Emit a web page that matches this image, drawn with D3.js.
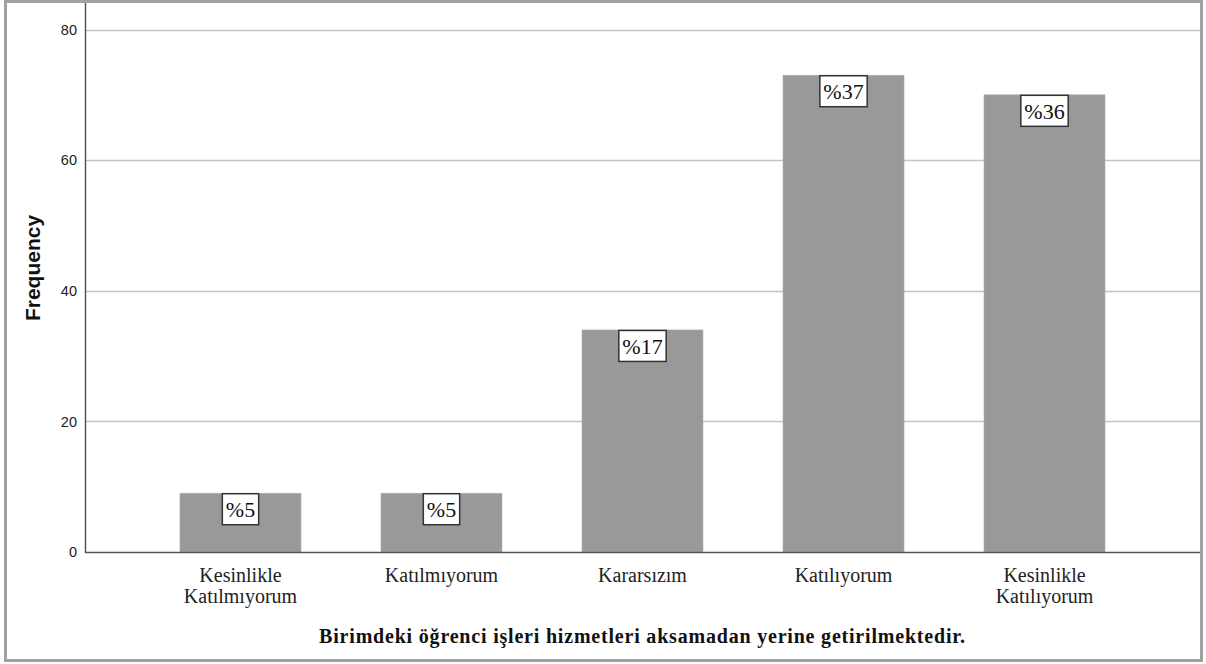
<!DOCTYPE html>
<html>
<head>
<meta charset="utf-8">
<script src="https://cdn.jsdelivr.net/npm/d3@7"></script>
<style>
  body { margin: 0; background: #fff; }
  svg { display: block; }
</style>
</head>
<body>
<svg id="chart" width="1206" height="664"></svg>
<script>
(function () {
	// chart data
	let categories = [["Kesinlikle", "Katılmıyorum"], ["Katılmıyorum"], ["Kararsızım"], ["Katılıyorum"], ["Kesinlikle", "Katılıyorum"]];
	let frequencies = [9, 9, 34, 73, 70];
	let percentLabels = ["%5", "%5", "%17", "%37", "%36"];
	let yTicks = [0, 20, 40, 60, 80];
	let xTitle = "Birimdeki öğrenci işleri hizmetleri aksamadan yerine getirilmektedir.";
	let yTitle = "Frequency";

	let serif = "'Liberation Serif', 'DejaVu Serif', serif";
	let sans = "'Liberation Sans', Arial, sans-serif";
	let plot = {left: 85, right: 1200, top: 3, bottom: 552};

	let svg = d3.select("#chart");

	let x = d3.scaleBand()
		.domain(d3.range(categories.length))
		.range([plot.left, plot.right])
		.paddingInner(0.398)
		.paddingOuter(0.4725);

	let y = d3.scaleLinear()
		.domain([0, 80])
		.range([plot.bottom, 29.5]);

	// outer frame
	svg.append("rect")
		.attr("x", 5.5).attr("y", 1.5)
		.attr("width", 1196).attr("height", 659)
		.attr("fill", "none")
		.attr("stroke", "#a0a0a0")
		.attr("stroke-width", 3);

	// gridlines
	svg.append("g")
		.selectAll("line")
		.data(yTicks.filter(d => d > 0))
		.enter()
		.append("line")
		.attr("x1", plot.left).attr("x2", plot.right)
		.attr("y1", d => Math.round(y(d)) + 0.5)
		.attr("y2", d => Math.round(y(d)) + 0.5)
		.attr("stroke", "#c4c4c4")
		.attr("stroke-width", 1.3);

	// bars
	svg.append("g")
		.selectAll("rect")
		.data(frequencies)
		.enter()
		.append("rect")
		.attr("x", (d, i) => x(i))
		.attr("y", d => y(d))
		.attr("width", x.bandwidth())
		.attr("height", d => y(0) - y(d))
		.attr("fill", "#999999")
		.attr("stroke", "#b0b0b0")
		.attr("stroke-width", 0.6);

	// y axis ticks
	let yAxis = d3.axisLeft(y).tickValues(yTicks).tickSize(0).tickPadding(8);
	let gy = svg.append("g")
		.attr("transform", "translate(" + plot.left + ",0)")
		.call(yAxis);
	gy.select(".domain").remove();
	gy.selectAll("text")
		.attr("font-family", sans)
		.attr("font-size", 14.5)
		.attr("fill", "#222");

	svg.append("line")
		.attr("x1", plot.left + 0.5).attr("x2", plot.left + 0.5)
		.attr("y1", plot.top).attr("y2", plot.bottom + 1)
		.attr("stroke", "#555").attr("stroke-width", 1.5);
	svg.append("line")
		.attr("x1", plot.left).attr("x2", plot.right)
		.attr("y1", plot.bottom + 0.5).attr("y2", plot.bottom + 0.5)
		.attr("stroke", "#555").attr("stroke-width", 1.5);

	// percentage boxes
	let labels = svg.append("g")
		.selectAll("g")
		.data(frequencies)
		.enter()
		.append("g")
		.attr("transform", (d, i) => "translate(" + (x(i) + x.bandwidth() / 2) + "," + y(d) + ")");
	labels.append("text")
		.attr("text-anchor", "middle")
		.attr("y", 24)
		.attr("font-family", serif)
		.attr("font-size", 22)
		.attr("fill", "#111")
		.text((d, i) => percentLabels[i]);
	labels.each(function () {
		let g = d3.select(this);
		let w = g.select("text").node().getComputedTextLength();
		g.insert("rect", "text")
			.attr("x", -w / 2 - 3.5)
			.attr("y", 0.5)
			.attr("width", w + 7)
			.attr("height", 31)
			.attr("fill", "#fff")
			.attr("stroke", "#333")
			.attr("stroke-width", 1.5);
	});

	// category labels
	let cats = svg.append("g")
		.selectAll("text")
		.data(categories)
		.enter()
		.append("text")
		.attr("text-anchor", "middle")
		.attr("font-family", serif)
		.attr("font-size", 20)
		.attr("fill", "#222")
		.attr("transform", (d, i) => "translate(" + (x(i) + x.bandwidth() / 2) + ",582)");
	cats.selectAll("tspan")
		.data(d => d)
		.enter()
		.append("tspan")
		.attr("x", 0)
		.attr("dy", (d, i) => i === 0 ? 0 : 21)
		.text(d => d);

	// axis titles
	svg.append("text")
		.attr("x", (plot.left + plot.right) / 2)
		.attr("y", 643)
		.attr("text-anchor", "middle")
		.attr("font-family", serif)
		.attr("font-weight", "bold")
		.attr("font-size", 20)
		.attr("letter-spacing", 0.8)
		.attr("fill", "#111")
		.text(xTitle);

	svg.append("text")
		.attr("transform", "translate(40,268) rotate(-90)")
		.attr("text-anchor", "middle")
		.attr("font-family", sans)
		.attr("font-weight", "bold")
		.attr("font-size", 21)
		.attr("fill", "#111")
		.text(yTitle);
})();
</script>
</body>
</html>
